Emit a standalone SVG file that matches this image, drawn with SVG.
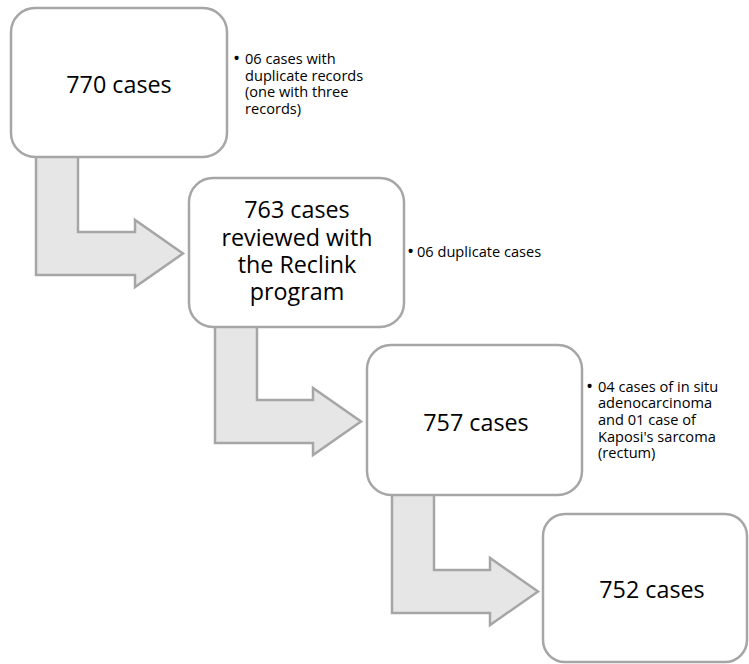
<svg xmlns="http://www.w3.org/2000/svg" width="749" height="664" viewBox="0 0 749 664">
  <style>
    .box { fill: #ffffff; stroke: #a6a6a6; stroke-width: 2.5; }
    .arrow { fill: #e7e6e6; stroke: #a6a6a6; stroke-width: 2.5; stroke-linejoin: miter; }
    .main { font-family: "Open Sans", "Noto Sans", "Liberation Sans", sans-serif; font-size: 23.3px; fill: #000000; text-anchor: middle; }
    .note { font-family: "Open Sans", "Noto Sans", "Liberation Sans", sans-serif; font-size: 14.6px; fill: #000000; }
    .bullet { font-size: 19px; }
  </style>
  <rect width="749" height="664" fill="#ffffff"/>
  <g id="connectors">
    <path class="arrow" d="M36,156 L78,156 L78,232 L135,232 L135,220 L183,253.5 L135,287 L135,275 L36,275 Z"/>
    <path class="arrow" d="M215,326 L257,326 L257,400 L313,400 L313,388 L361,421.5 L313,455 L313,443 L215,443 Z"/>
    <path class="arrow" d="M392,494 L434,494 L434,570 L490,570 L490,558 L538,591.5 L490,625 L490,613 L392,613 Z"/>
  </g>
  <g id="node-770">
    <rect class="box" x="11" y="8" width="216" height="149" rx="24" ry="24"/>
    <text class="main" x="119" y="93">770 cases</text>
  </g>
  <g id="note-770">
    <text class="note"><tspan class="bullet" x="233" y="65">•</tspan><tspan x="245" y="64">06 cases with</tspan><tspan x="245" y="81">duplicate records</tspan><tspan x="245" y="97">(one with three</tspan><tspan x="245" y="114">records)</tspan></text>
  </g>
  <g id="node-763">
    <rect class="box" x="189" y="178" width="215" height="149" rx="24" ry="24"/>
    <text class="main"><tspan x="297" y="218">763 cases</tspan><tspan x="297" y="246">reviewed with</tspan><tspan x="297" y="273">the Reclink</tspan><tspan x="297" y="300">program</tspan></text>
  </g>
  <g id="note-763">
    <text class="note"><tspan class="bullet" x="407" y="258">•</tspan><tspan x="417" y="257">06 duplicate cases</tspan></text>
  </g>
  <g id="node-757">
    <rect class="box" x="367" y="345" width="215" height="150" rx="24" ry="24"/>
    <text class="main" x="476" y="431">757 cases</text>
  </g>
  <g id="note-757">
    <text class="note"><tspan class="bullet" x="586" y="393">•</tspan><tspan x="598" y="392">04 cases of in situ</tspan><tspan x="598" y="408">adenocarcinoma</tspan><tspan x="598" y="425">and 01 case of</tspan><tspan x="598" y="442">Kaposi's sarcoma</tspan><tspan x="598" y="458">(rectum)</tspan></text>
  </g>
  <g id="node-752">
    <rect class="box" x="543" y="514" width="204" height="148" rx="22" ry="22"/>
    <text class="main" x="652" y="598">752 cases</text>
  </g>
</svg>
